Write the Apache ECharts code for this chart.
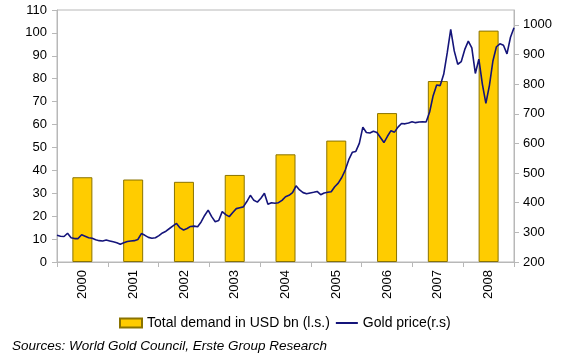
<!DOCTYPE html>
<html>
<head>
<meta charset="utf-8">
<script src="https://cdn.jsdelivr.net/npm/echarts@6/dist/echarts.min.js"></script>
<style>
html,body{margin:0;padding:0;background:#fff;}
#chart{width:565px;height:360px;}
</style>
</head>
<body>
<div id="chart"></div>
<script>
var years = ['2000','2001','2002','2003','2004','2005','2006','2007','2008'];
var demandUSDbn = [37, 36, 35, 38, 47, 53, 65, 79, 101];
var goldPrice = [
 290,287,286,297,282,279,279,292,287,282,
 280,275,272,271,274,271,268,265,260,265,
 269,271,272,276,296,290,283,280,282,289,
 298,304,313,322,330,315,308,313,320,321,
 319,335,357,375,353,336,340,370,360,353,
 367,380,383,386,404,425,408,402,415,432,
 395,400,398,400,408,420,425,434,457,443,
 434,430,433,435,438,427,433,435,437,454,
 466,485,510,545,570,573,600,655,637,635,
 641,637,620,603,624,643,638,655,667,666,
 669,673,670,672,673,672,706,761,797,795,
 833,905,985,912,867,876,917,945,922,836,
 884,800,735,795,878,926,936,931,902,958,
 990
];
var leftTicks = {min: 0, max: 110, interval: 10};
var rightTicks = {min: 200, max: 1050, interval: 100};
var sourceText = 'Sources: World Gold Council, Erste Group Research';

var priceIdx = goldPrice.map(function(_, i){ return String(i); });
var font = '"Liberation Sans", Arial, Helvetica, sans-serif';
var chart = echarts.init(document.getElementById('chart'), null, {renderer: 'canvas'});
chart.setOption({
  animation: false,
  backgroundColor: '#ffffff',
  textStyle: {fontFamily: font},
  grid: {left: 57, right: 51, top: 10, bottom: 98, show: true, borderColor: '#b8b8b8', borderWidth: 1, backgroundColor: 'transparent'},
  legend: {
    left: 114, top: 311, itemWidth: 22, itemHeight: 9, itemGap: 6,
    textStyle: {fontFamily: font, fontSize: 14, color: '#000'},
    data: [
      {name: 'Total demand in USD bn (l.s.)', icon: 'rect'},
      {name: 'Gold price(r.s)', icon: 'path://M0,0L22,0L22,2L0,2Z'}
    ]
  },
  graphic: [{
    type: 'text', left: 12, top: 339,
    style: {text: sourceText, font: 'italic 13.5px ' + font, fill: '#000'}
  }],
  xAxis: [{
    type: 'category', data: years, boundaryGap: true,
    axisLine: {lineStyle: {color: '#b8b8b8'}},
    axisTick: {show: true, length: 5, lineStyle: {color: '#b8b8b8'}},
    axisLabel: {rotate: 90, margin: 8, fontSize: 13, color: '#000', fontFamily: font},
    splitLine: {show: false}
  }, {
    type: 'category', data: priceIdx, boundaryGap: false, show: false,
    position: 'bottom'
  }],
  yAxis: [{
    type: 'value', min: leftTicks.min, max: leftTicks.max, interval: leftTicks.interval,
    axisLine: {show: true, lineStyle: {color: '#b8b8b8'}},
    axisTick: {show: true, length: 5, lineStyle: {color: '#b8b8b8'}},
    axisLabel: {margin: 10, fontSize: 13, color: '#000', fontFamily: font},
    splitLine: {show: false}
  }, {
    type: 'value', min: rightTicks.min, max: rightTicks.max, interval: rightTicks.interval,
    position: 'right',
    axisLine: {show: true, lineStyle: {color: '#b8b8b8'}},
    axisTick: {show: true, length: 5, lineStyle: {color: '#b8b8b8'}},
    axisLabel: {margin: 9, fontSize: 13, color: '#000', fontFamily: font, showMaxLabel: false,
      formatter: function(v){ return String(v); }},
    splitLine: {show: false}
  }],
  series: [{
    name: 'Total demand in USD bn (l.s.)', type: 'bar', data: demandUSDbn,
    xAxisIndex: 0, yAxisIndex: 0, barWidth: 20,
    itemStyle: {color: '#FFCC00', borderColor: '#8a7300', borderWidth: 1}
  }, {
    name: 'Gold price(r.s)', type: 'line', data: goldPrice,
    xAxisIndex: 1, yAxisIndex: 1, symbol: 'none', smooth: false,
    lineStyle: {color: '#14147a', width: 1.6},
    itemStyle: {color: '#14147a'}
  }]
});
</script>
</body>
</html>
